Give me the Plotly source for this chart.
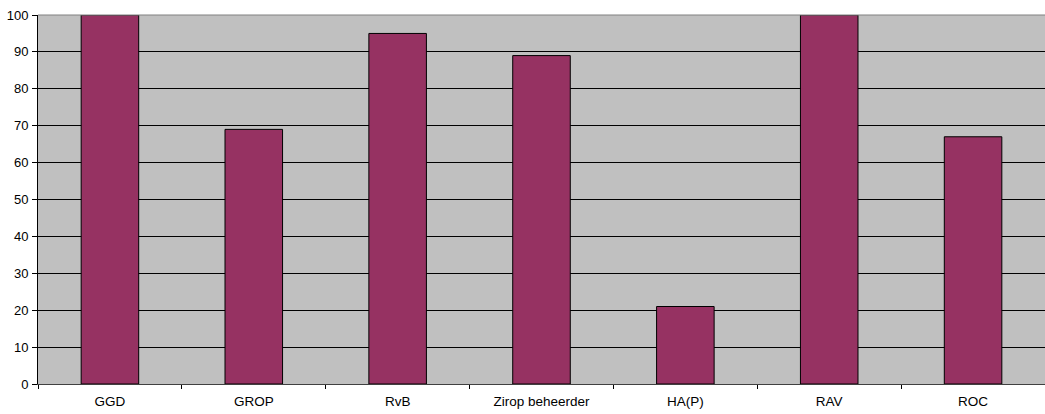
import plotly.graph_objects as go

categories = ["GGD", "GROP", "RvB", "Zirop beheerder", "HA(P)", "RAV", "ROC"]
values = [100, 69, 95, 89, 21, 100, 67]
y_ticks = list(range(0, 101, 10))

fig = go.Figure(go.Bar(
    x=categories, y=values,
    marker=dict(color="#963262", line=dict(color="#000000", width=1)),
    width=0.4,
))

fig.update_layout(
    width=1045, height=414,
    margin=dict(l=38, r=0, t=15, b=30),
    paper_bgcolor="white", plot_bgcolor="#C0C0C0",
    font=dict(family="Liberation Sans, Arial, sans-serif", size=13, color="#000000"),
    showlegend=False,
    shapes=[dict(type="line", xref="paper", yref="paper", x0=0, x1=1, y0=1, y1=1,
                 line=dict(color="#808080", width=1))],
)
fig.update_xaxes(
    type="category", showgrid=False, tickson="boundaries", ticks="outside",
    ticklen=4, tickcolor="#000000", showline=True, linecolor="#404040", linewidth=1,
    ticklabelstandoff=5, automargin=False, tickfont=dict(size=13.5),
)
fig.update_yaxes(
    range=[0, 100], tickvals=y_ticks, showgrid=True, gridcolor="#000000", gridwidth=1,
    ticks="outside", ticklen=5, tickcolor="#000000", showline=True, linecolor="#000000",
    linewidth=1, zeroline=False, ticklabelstandoff=1, automargin=False,
)

fig.write_html("out.html", config={"displayModeBar": False},
               post_script="document.body.style.margin='0';")
